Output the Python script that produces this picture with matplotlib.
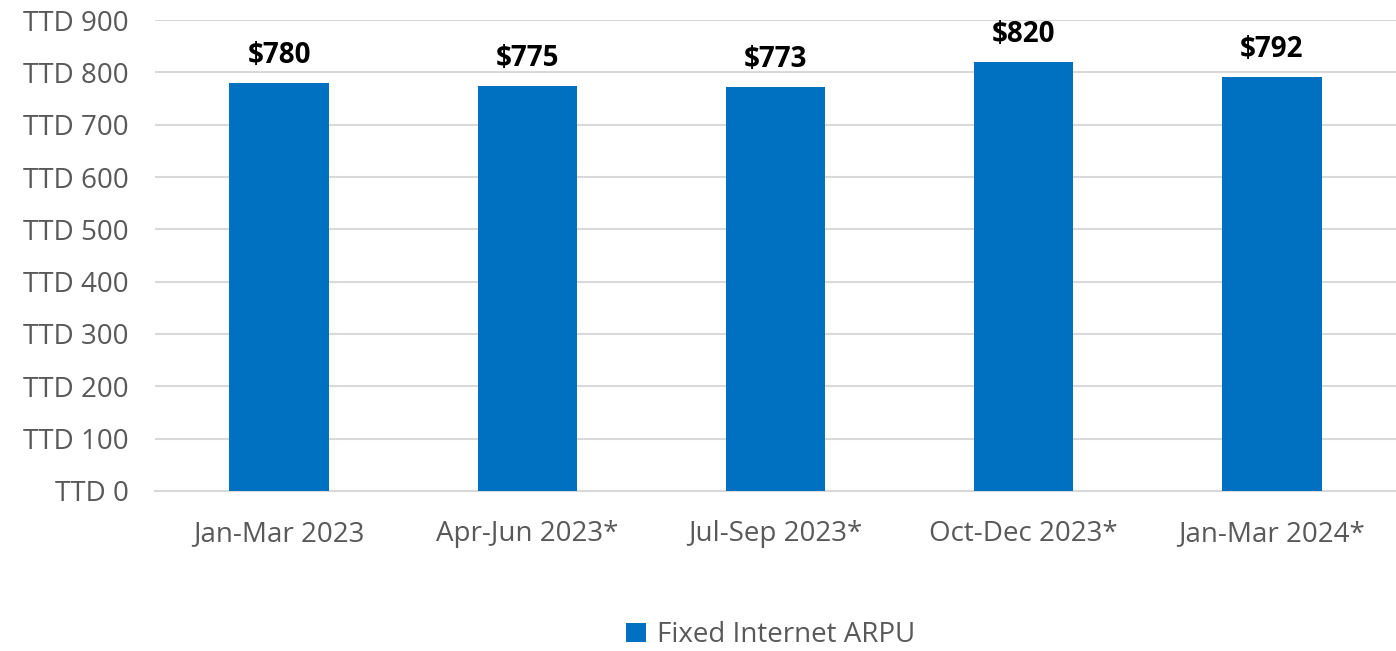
import matplotlib.pyplot as plt

categories = ['Jan-Mar 2023', 'Apr-Jun 2023*', 'Jul-Sep 2023*', 'Oct-Dec 2023*', 'Jan-Mar 2024*']
arpu = [780, 775, 773, 820, 792]
yticks = [0, 100, 200, 300, 400, 500, 600, 700, 800, 900]

plt.rcParams['font.family'] = ['Open Sans', 'DejaVu Sans']
grey = '#595959'
blue = '#0070C0'

fig = plt.figure(figsize=(13.96, 6.51), dpi=100)
ax = fig.add_axes([0.111, 0.246, 0.889, 0.723])

x = range(len(categories))
bars = ax.bar(x, arpu, width=0.4, color=blue, label='Fixed Internet ARPU', zorder=3)
for i, v in enumerate(arpu):
    ax.text(i, v + 24, '$%d' % v, ha='center', va='bottom', fontsize=20,
            fontweight='bold', color='black')

ax.set_xlim(-0.5, len(categories) - 0.5)
ax.set_ylim(0, 900)
ax.set_yticks(yticks)
ax.set_yticklabels(['TTD %d' % t for t in yticks])
ax.set_xticks(list(x))
ax.set_xticklabels(categories)
ax.tick_params(axis='both', length=0, labelsize=20, labelcolor=grey)
ax.tick_params(axis='y', pad=19)
ax.tick_params(axis='x', pad=21)
ax.grid(axis='y', color='#d9d9d9', linewidth=1.5, zorder=0)
for s in ['top', 'right', 'left']:
    ax.spines[s].set_visible(False)
ax.spines['bottom'].set_color('#d9d9d9')
ax.spines['bottom'].set_linewidth(1.5)

fig.legend(handles=[bars], loc='lower center', bbox_to_anchor=(0.552, 0.003),
           frameon=False, fontsize=20, handlelength=0.7, handleheight=0.7,
           handletextpad=0.4, labelcolor=grey, borderpad=0, borderaxespad=0)

fig.savefig('out.png', dpi=100)
plt.close()
